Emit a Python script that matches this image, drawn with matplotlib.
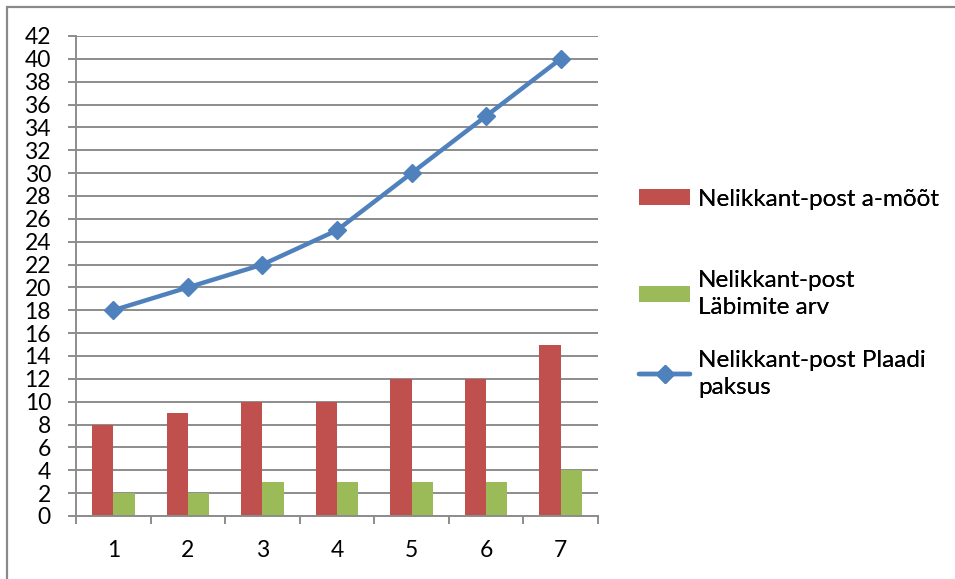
import matplotlib.pyplot as plt
import numpy as np
from matplotlib.patches import Rectangle

categories = ["1", "2", "3", "4", "5", "6", "7"]
a_moot = [8, 9, 10, 10, 12, 12, 15]
labimite_arv = [2, 2, 3, 3, 3, 3, 4]
plaadi_paksus = [18, 20, 22, 25, 30, 35, 40]

y_ticks = list(range(0, 43, 2))

RED = "#C0504D"
GREEN = "#9BBB59"
BLUE = "#4F81BD"
GRID = "#8C8C8C"

plt.rcParams["font.family"] = ["Lato", "DejaVu Sans"]
FS = 16.5
LEG_FS = 17.5

W, H = 955, 579
fig = plt.figure(figsize=(W / 100, H / 100), dpi=100)
ax = fig.add_axes([76 / W, 1 - 516 / H, (598 - 76) / W, (516 - 36) / H])

# chart frame, only top and left edges fall inside the image
fig.patches.append(Rectangle((7 / W, -0.1), 1.2, 1 - 7 / H + 0.1,
                             transform=fig.transFigure, fill=False,
                             edgecolor="#8A8A8A", linewidth=1.6))

x = np.arange(len(categories))
w = 1 / 3.5
bars_red = ax.bar(x - w / 2, a_moot, width=w, color=RED, zorder=2)
bars_green = ax.bar(x + w / 2, labimite_arv, width=w, color=GREEN, zorder=2)
line, = ax.plot(x, plaadi_paksus, color=BLUE, linewidth=3.2, marker="D",
                markersize=9, zorder=3, solid_capstyle="round")

ax.set_xlim(-0.5, len(categories) - 0.5)
ax.set_ylim(0, 42)
ax.set_yticks(y_ticks)
ax.set_yticklabels([str(v) for v in y_ticks], fontsize=FS)
ax.yaxis.grid(True, color=GRID, linewidth=1.4, zorder=0)
ax.set_axisbelow(True)

ax.set_xticks(np.arange(-0.5, len(categories), 1.0))
ax.set_xticklabels([])
ax.set_xticks(x, minor=True)
ax.set_xticklabels(categories, minor=True, fontsize=FS)
ax.tick_params(axis="x", which="major", length=6, width=1.4, color=GRID, direction="out")
ax.tick_params(axis="x", which="minor", length=0, pad=17)
ax.tick_params(axis="y", length=6, width=1.4, color=GRID, pad=12)

for side in ["top", "right"]:
    ax.spines[side].set_visible(False)
for side in ["left", "bottom"]:
    ax.spines[side].set_color(GRID)
    ax.spines[side].set_linewidth(1.4)

# legend entries placed one by one
entries = [
    (bars_red, "Nelikkant-post a-mõõt", 199),
    (bars_green, "Nelikkant-post\nLäbimite arv", 294),
    (line, "Nelikkant-post Plaadi\npaksus", 374),
]
for handle, label, ypix in entries:
    leg = fig.legend([handle], [label], loc="center left",
                     bbox_to_anchor=(639 / W, 1 - ypix / H), frameon=False,
                     fontsize=LEG_FS, handlelength=2.1, handleheight=0.65,
                     handletextpad=0.33, borderaxespad=0, borderpad=0)
    for t in leg.get_texts():
        t.set_linespacing(1.35)
    fig.add_artist(leg)

fig.savefig("out.png", dpi=100)
